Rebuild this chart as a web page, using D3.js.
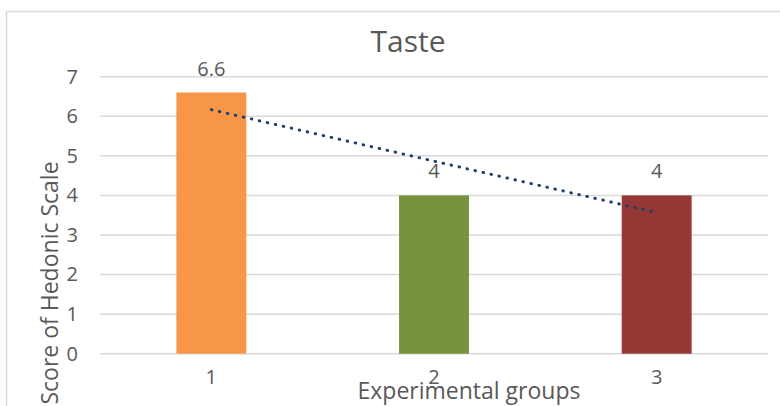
<!DOCTYPE html>
<html><head><meta charset="utf-8">
<script src="https://cdn.jsdelivr.net/npm/d3@7"></script>
<style>body{margin:0;background:#fff}svg{display:block}text{font-family:"Open Sans",sans-serif;fill:#595959}</style>
</head><body><svg id="c" width="780" height="406"></svg>
<script>
const categories = ["1","2","3"];
const values = [6.6, 4, 4];
const colors = ["#F79646","#77933C","#953735"];
const yTicks = [0,1,2,3,4,5,6,7];
const title = "Taste";
const xTitle = "Experimental groups";
const yTitle = "Score of Hedonic Scale";

const svg = d3.select("#c");
svg.append("rect").attr("x",6.5).attr("y",11.5).attr("width",900).attr("height",600)
  .attr("fill","#fff").attr("stroke","#D9D9D9").attr("stroke-width",1.5);

const x = d3.scaleBand().domain(categories).range([100,768]).paddingInner(0.686).paddingOuter(0.343);
const y = d3.scaleLinear().domain([0,7]).range([353.7,76.7]);

svg.append("g").selectAll("line").data(yTicks).join("line")
  .attr("x1",100).attr("x2",768).attr("y1",d=>y(d)).attr("y2",d=>y(d))
  .attr("stroke","#D9D9D9").attr("stroke-width",1.5);

const ya = svg.append("g").attr("transform","translate(78,0)")
  .call(d3.axisLeft(y).tickValues(yTicks).tickSize(0).tickPadding(0).tickFormat(d3.format("d")));
ya.select(".domain").remove();
ya.selectAll("text").style("font-size","20px").attr("fill","#595959").attr("font-family","Open Sans");

svg.append("g").selectAll("rect").data(values).join("rect")
  .attr("x",(d,i)=>x(categories[i])).attr("width",x.bandwidth())
  .attr("y",d=>y(d)).attr("height",d=>y(0)-y(d)).attr("fill",(d,i)=>colors[i]);

svg.append("g").selectAll("text").data(values).join("text")
  .attr("x",(d,i)=>x(categories[i])+x.bandwidth()/2).attr("y",d=>y(d)-17)
  .attr("text-anchor","middle").style("font-size","20px").text(d=>d);

const xa = svg.append("g").attr("transform","translate(0,"+y(0)+")")
  .call(d3.axisBottom(x).tickSize(0).tickPadding(16));
xa.select(".domain").remove();
xa.selectAll("text").style("font-size","20px").attr("fill","#595959").attr("font-family","Open Sans");

const xs = values.map((d,i)=>i+1);
const mx = d3.mean(xs), my = d3.mean(values);
const slope = d3.sum(xs.map((xv,i)=>(xv-mx)*(values[i]-my)))/d3.sum(xs.map(xv=>(xv-mx)**2));
const icpt = my - slope*mx;
const trend = xs.map((xv,i)=>[x(categories[i])+x.bandwidth()/2, y(icpt+slope*xv)]);
svg.append("path").attr("d",d3.line()([trend[0],trend[trend.length-1]]))
  .attr("fill","none").attr("stroke","#1F3F73").attr("stroke-width",3)
  .attr("stroke-linecap","round").attr("stroke-dasharray","0.5 7.7");

svg.append("text").attr("x",408).attr("y",52).attr("text-anchor","middle")
  .style("font-size","30px").text(title);
svg.append("text").attr("x",469).attr("y",399).attr("text-anchor","middle")
  .style("font-size","23px").text(xTitle);
svg.append("text").attr("transform","translate(58,283) rotate(-90)").attr("text-anchor","middle")
  .style("font-size","23px").text(yTitle);
</script></body></html>
